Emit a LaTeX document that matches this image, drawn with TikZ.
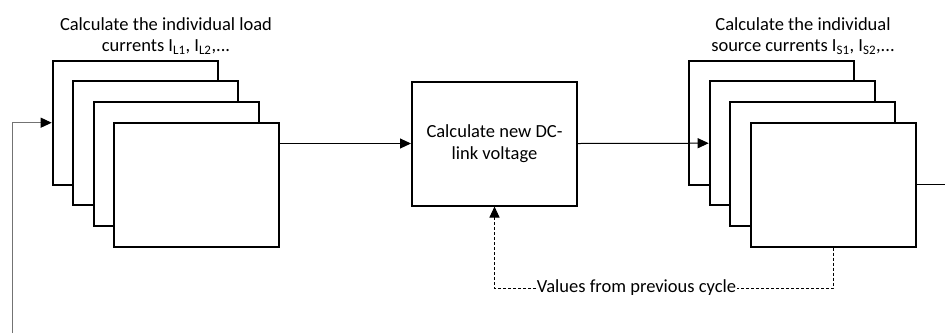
\documentclass[tikz,border=0pt]{standalone}
\usepackage{fontspec}
\setmainfont{Carlito}
\usetikzlibrary{positioning}
\usetikzlibrary{arrows.meta}

\begin{document}
\begin{tikzpicture}[
	x=1pt, y=-1pt,
	font=\fontsize{18.5}{21.5}\selectfont,
	box/.style = {rectangle, draw=black, fill=white, line width=2pt, minimum width=165pt, minimum height=124pt, inner sep=0pt, align=center},
	lbl/.style = {align=center, inner sep=0pt},
	r/.style   = {-{Triangle[length=11pt, width=10pt, color=black]}, line width=1pt},
	d/.style   = {dash pattern=on 3pt off 2pt, line width=1pt},
	fb/.style  = {draw=black!55, line width=1.2pt}
	]
	\useasboundingbox (0,0) rectangle (945,333);
	
	% === === Nodes === ===
	\node[box]	(l1)	at	(135.2, 122.7)	{};
	\node[box]	(l2)	at	(155.7, 143.2)	{};
	\node[box]	(l3)	at	(176.2, 163.7)	{};
	\node[box]	(l4)	at	(196.7, 184.7)	{};
	
	\node[box]	(calc)	at	(494.5, 143.5)	{Calculate new DC-\\link voltage};
	
	\node[box]	(r1)	at	(771.7, 122.7)	{};
	\node[box]	(r2)	at	(792.2, 143.2)	{};
	\node[box]	(r3)	at	(812.7, 163.7)	{};
	\node[box]	(r4)	at	(833.5, 184.7)	{};
	
	\node[lbl]	(loadlbl)	at	(166, 36)	{Calculate the individual load\\currents I\textsubscript{L1}, I\textsubscript{L2},...};
	\node[lbl]	(srclbl)	at	(803, 36)	{Calculate the individual\\source currents I\textsubscript{S1}, I\textsubscript{S2},...};
	
	\node[lbl, fill=white, inner xsep=0.5pt]	(prev)	at	(636.5, 288)	{Values from previous cycle};
	
	\coordinate	(fbin)	at	(12.3, 333);
	\coordinate	(fbout)	at	(945, 184.7);
	
	
	% === === Lines === ===
	\draw[r]	(l4.east |- calc.west)	to	(calc.west);
	\draw[r]	(calc.east)	to	(r2.west);
	\draw[line width=1pt]	(r4.east)	to	(fbout);
	
	\draw[fb, r]	(fbin)	|-	(l1.west);
	
	\draw[d]	(r4.south)	|-	(prev.east);
	\draw[d, r]	(prev.west)	-|	(calc.south);
	
\end{tikzpicture}
\end{document}
